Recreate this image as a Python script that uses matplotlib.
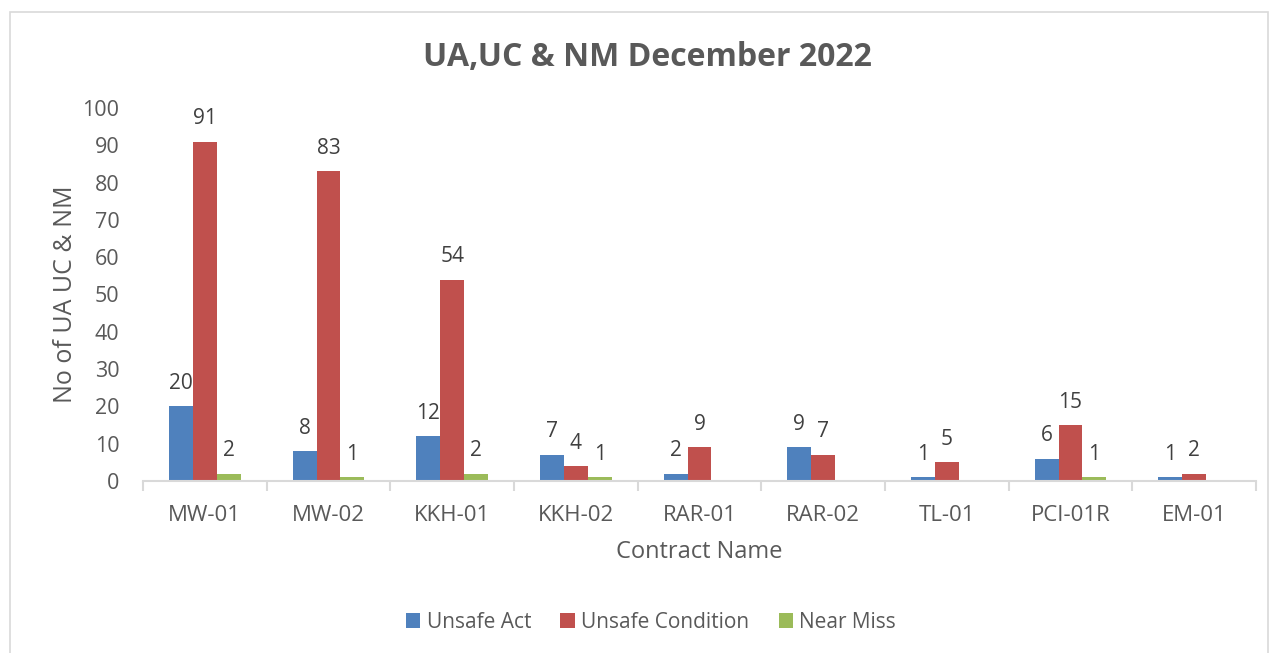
import matplotlib.pyplot as plt
from matplotlib.patches import Rectangle
import numpy as np

plt.rcParams["font.family"] = ["Open Sans", "DejaVu Sans"]

contracts = ["MW-01", "MW-02", "KKH-01", "KKH-02", "RAR-01", "RAR-02", "TL-01", "PCI-01R", "EM-01"]
unsafe_act = [20, 8, 12, 7, 2, 9, 1, 6, 1]
unsafe_condition = [91, 83, 54, 4, 9, 7, 5, 15, 2]
near_miss = [2, 1, 2, 1, 0, 0, 0, 1, 0]

series = [
    ("Unsafe Act", unsafe_act, "#4F81BD"),
    ("Unsafe Condition", unsafe_condition, "#C0504D"),
    ("Near Miss", near_miss, "#9BBB59"),
]

TXT = "#595959"
W = 1272
H = 653

fig = plt.figure(figsize=(W / 100, H / 100), dpi=100)
ax = fig.add_axes([143 / W, 1 - 481 / H, (1256 - 143) / W, (481 - 108) / H])

x = np.arange(len(contracts))
bw = 0.194
for i, (name, vals, col) in enumerate(series):
    pos = x + (i - 1) * bw
    bars = ax.bar(pos, vals, bw, color=col, label=name, zorder=2)
    for b, v in zip(bars, vals):
        if v == 0:
            continue
        ax.annotate(str(v), (b.get_x() + b.get_width() / 2, v),
                    xytext=(0, 9), textcoords="offset points",
                    ha="center", va="bottom", fontsize=15, color="#404040")

ax.set_xlim(-0.5, len(contracts) - 0.5)
ax.set_ylim(0, 100)
ax.set_yticks(range(0, 101, 10))
ax.set_xticks(x)
ax.set_xticklabels(contracts)
ax.set_xticks(np.arange(-0.5, len(contracts), 1), minor=True)
ax.tick_params(axis="x", which="major", length=0, pad=17, labelsize=16, labelcolor=TXT)
ax.tick_params(axis="x", which="minor", length=7, color="#D9D9D9", width=1.5)
ax.tick_params(axis="y", length=0, pad=17, labelsize=15.5, labelcolor=TXT)

for s in ["top", "right", "left"]:
    ax.spines[s].set_visible(False)
ax.spines["bottom"].set_color("#D9D9D9")
ax.spines["bottom"].set_linewidth(1.5)

ax.set_ylabel("No of UA UC & NM", fontsize=18, color=TXT, labelpad=3)
ax.set_xlabel("Contract Name", fontsize=17, color=TXT, labelpad=10)

fig.text(0.509, 1 - 57 / H, "UA,UC & NM December 2022", ha="center", va="center",
         fontsize=23, fontweight="bold", color=TXT)

fig.legend(loc="center", bbox_to_anchor=(651 / W, 1 - 622 / H), ncol=3, frameon=False,
           fontsize=15, labelcolor=TXT, handlelength=0.7, handleheight=0.7,
           handletextpad=0.3, columnspacing=1.4)

fig.patches.append(Rectangle((10 / W, -0.01), (1268 - 10) / W, 1.01 - 12 / H,
                             transform=fig.transFigure, fill=False,
                             edgecolor="#D9D9D9", linewidth=1.2))

fig.savefig("out.png", dpi=100)
